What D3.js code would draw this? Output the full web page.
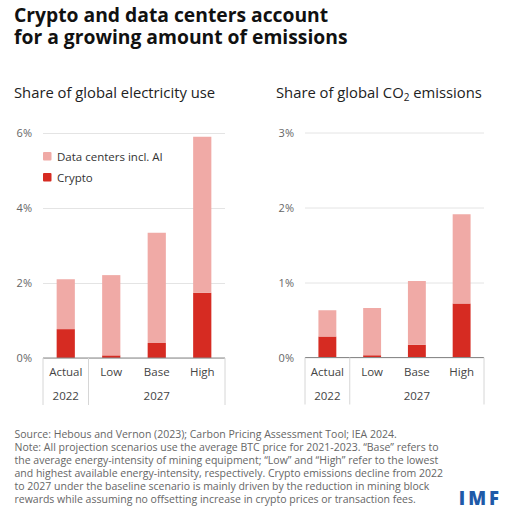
<!DOCTYPE html>
<html>
<head>
<meta charset="utf-8">
<script src="https://cdn.jsdelivr.net/npm/d3@7"></script>
<style>
  body { margin: 0; background: #fff; }
  svg text { font-family: "Open Sans", "Noto Sans", sans-serif; }
</style>
</head>
<body>
<div id="chart"></div>
<script>
// data
var categories = ["Actual", "Low", "Base", "High"];
var yearGroups = [["2022", 0, 1], ["2027", 1, 4]];
var seriesNames = ["Crypto", "Data centers incl. AI"];
var elecCrypto = [0.77, 0.07, 0.40, 1.74];
var elecDataCenters = [1.33, 2.14, 2.94, 4.16];
var co2Crypto = [0.28, 0.03, 0.17, 0.72];
var co2DataCenters = [0.35, 0.63, 0.85, 1.19];
var elecTicks = [0, 2, 4, 6];
var co2Ticks = [0, 1, 2, 3];

var titleLines = ["Crypto and data centers account", "for a growing amount of emissions"];
var noteLines = [
  "Source: Hebous and Vernon (2023); Carbon Pricing Assessment Tool; IEA 2024.",
  "Note: All projection scenarios use the average BTC price for 2021-2023. \u201cBase\u201d refers to",
  "the average energy-intensity of mining equipment; \u201cLow\u201d and \u201cHigh\u201d refer to the lowest",
  "and highest available energy-intensity, respectively. Crypto emissions decline from 2022",
  "to 2027 under the baseline scenario is mainly driven by the reduction in mining block",
  "rewards while assuming no offsetting increase in crypto prices or transaction fees."
];

var colors = { "Crypto": "#d62b22", "Data centers incl. AI": "#f0aaa6" };

var width = 512, height = 515;
var svg = d3.select("#chart").append("svg")
    .attr("width", width)
    .attr("height", height);

// title (one text, two lines)
svg.append("text")
    .attr("x", 14).attr("y", 22)
    .attr("font-size", 19.3).attr("font-weight", 700).attr("fill", "#111")
  .selectAll("tspan").data(titleLines).enter().append("tspan")
    .attr("x", 14)
    .attr("dy", function(d, i) { return i ? 21.6 : 0; })
    .text(function(d) { return d; });

function panel(opts) {
  var x = d3.scaleBand().domain(categories)
      .range([opts.x0, opts.x1]).paddingInner(0.6).paddingOuter(0.3);
  var y = d3.scaleLinear().domain([0, opts.max]).range([opts.yBase, opts.yTop]);

  var g = svg.append("g");

  // subtitle
  var sub = g.append("text")
      .attr("x", opts.subX).attr("y", 98)
      .attr("font-size", 14.8).attr("fill", "#222");
  opts.subtitle.forEach(function(p) {
    sub.append("tspan").text(p.t)
      .attr("font-size", p.sub ? 10 : null)
      .attr("dy", p.sub ? 3 : (p.after ? -3 : null));
  });

  // gridlines + tick labels
  var axis = d3.axisLeft(y).tickValues(opts.ticks)
      .tickSize(-(opts.x1 - opts.x0)).tickPadding(11)
      .tickFormat(function(d) { return d + "%"; });
  var ag = g.append("g").attr("transform", "translate(" + opts.x0 + ",0)").call(axis);
  ag.select(".domain").remove();
  ag.selectAll(".tick line").attr("stroke", "#e4e4e4");
  ag.selectAll(".tick text").attr("fill", "#666").attr("font-size", 11)
      .style("font-family", "'Open Sans', 'Noto Sans', sans-serif");

  // stacked bars
  var rows = categories.map(function(c, i) {
    return { cat: c, "Crypto": opts.crypto[i], "Data centers incl. AI": opts.dc[i] };
  });
  var stacked = d3.stack().keys(seriesNames)(rows);
  g.selectAll("g.series").data(stacked).enter().append("g")
      .attr("fill", function(d) { return colors[d.key]; })
    .selectAll("rect").data(function(d) { return d; }).enter().append("rect")
      .attr("x", function(d) { return x(d.data.cat); })
      .attr("width", x.bandwidth())
      .attr("y", function(d) { return y(d[1]); })
      .attr("height", function(d) { return y(d[0]) - y(d[1]); });

  // baseline
  g.append("line")
      .attr("x1", opts.x0).attr("x2", opts.x1)
      .attr("y1", y(0)).attr("y2", y(0))
      .attr("stroke", "#8a8a8a").attr("stroke-width", 1.2);

  // category labels and year groups
  g.selectAll("text.cat").data(categories).enter().append("text")
      .attr("x", function(d) { return x(d) + x.bandwidth() / 2; })
      .attr("y", y(0) + 18)
      .attr("text-anchor", "middle").attr("font-size", 11.5).attr("fill", "#444")
      .text(function(d) { return d; });

  var step = x.step();
  var start = opts.x0 + x.paddingOuter() * step - x.paddingInner() * step / 2;
  var seps = [opts.x0];
  yearGroups.forEach(function(gr) { seps.push(gr[2] === categories.length ? opts.x1 : start + gr[2] * step); });
  g.selectAll("line.sep").data(seps).enter().append("line")
      .attr("x1", function(d) { return d; }).attr("x2", function(d) { return d; })
      .attr("y1", y(0)).attr("y2", y(0) + 47)
      .attr("stroke", "#d6d6d6");

  g.selectAll("text.year").data(yearGroups).enter().append("text")
      .attr("x", function(d) {
        var a = x(categories[d[1]]), b = x(categories[d[2] - 1]) + x.bandwidth();
        return (a + b) / 2;
      })
      .attr("y", y(0) + 42)
      .attr("text-anchor", "middle").attr("font-size", 11.5).attr("fill", "#444")
      .text(function(d) { return d[0]; });

  return { g: g, x: x, y: y };
}

panel({
  x0: 43, x1: 225, yBase: 358, yTop: 133, max: 6, ticks: elecTicks,
  crypto: elecCrypto, dc: elecDataCenters, subX: 14,
  subtitle: [{ t: "Share of global electricity use" }]
});

panel({
  x0: 305, x1: 484, yBase: 357.5, yTop: 132.5, max: 3, ticks: co2Ticks,
  crypto: co2Crypto, dc: co2DataCenters, subX: 276,
  subtitle: [{ t: "Share of global CO" }, { t: "2", sub: true }, { t: " emissions", after: true }]
});

// legend
var legendItems = ["Data centers incl. AI", "Crypto"];
var lg = svg.selectAll("g.legend").data(legendItems).enter().append("g")
    .attr("transform", function(d, i) { return "translate(43," + (152 + i * 21) + ")"; });
lg.append("rect").attr("width", 8.5).attr("height", 8.5).attr("rx", 1)
    .attr("fill", function(d) { return colors[d]; });
lg.append("text").attr("x", 14).attr("y", 8.5)
    .attr("font-size", 11.5).attr("fill", "#333")
    .text(function(d) { return d; });

// source / note
svg.append("g").selectAll("text").data(noteLines).enter().append("text")
    .attr("x", 14.5)
    .attr("y", function(d, i) { return 438 + i * 12.9; })
    .attr("font-size", 10.5).attr("fill", "#666")
    .text(function(d) { return d; });

// logo
svg.append("text")
    .attr("x", 502).attr("y", 505)
    .attr("text-anchor", "end")
    .attr("font-size", 18.5).attr("font-weight", 800)
    .attr("fill", "#1f5aa8").attr("letter-spacing", 3)
    .text("IMF");
</script>
</body>
</html>
